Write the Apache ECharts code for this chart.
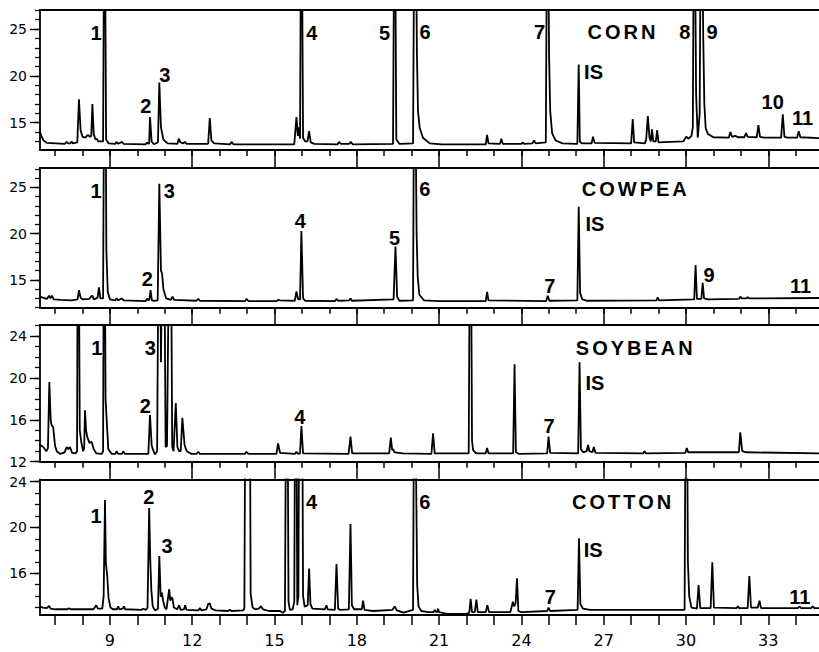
<!DOCTYPE html>
<html><head><meta charset="utf-8">
<script src="https://cdn.jsdelivr.net/npm/echarts@6/dist/echarts.min.js"></script>
<style>html,body{margin:0;padding:0;background:#fff}#c{width:819px;height:652px}</style>
</head><body><div id="c"></div>
<script>
// ---------- data ----------
const panelNames = ['CORN', 'COWPEA', 'SOYBEAN', 'COTTON'];
const xMin = 6.45, xMax = 34.85;
const xTicks = [7,8,9,10,11,12,13,14,15,16,17,18,19,20,21,22,23,24,25,26,27,28,29,30,31,32,33,34];
const xMajorTicks = [9,12,15,18,21,24,27,30,33];
const xTickLabels = [9,12,15,18,21,24,27,30,33];
const yMin = [12.09, 12.0, 12.0, 12.35];
const yMax = [27.03, 27.1, 25.05, 24.2];
const cornYTicks = [13,14,15,16,17,18,19,20,21,22,23,24,25,26,27];
const cowpeaYTicks = [12,13,14,15,16,17,18,19,20,21,22,23,24,25,26,27];
const soybeanYTicks = [12,13,14,15,16,17,18,19,20,21,22,23,24,25];
const cottonYTicks = [13,14,15,16,17,18,19,20,21,22,23,24];
const cornYLabels = [15,20,25];
const cowpeaYLabels = [15,20,25];
const soybeanYLabels = [12,16,20,24];
const cottonYLabels = [16,20,24];

// chromatogram traces: [retention time, detector response]
const cornTrace = [[6.45,14.0],[6.50,13.6],[6.58,13.1],[6.70,12.85],[7.35,12.75],[7.42,12.95],[7.47,12.8],[7.56,12.8],[7.60,13.0],[7.65,12.8],[7.81,12.9],[7.87,17.5],[7.93,14.2],[8.00,13.5],[8.10,13.4],[8.20,13.7],[8.27,13.5],[8.32,13.6],[8.36,17.0],[8.41,13.8],[8.47,13.2],[8.52,13.3],[8.57,13.0],[8.65,13.0],[8.75,13.0],[8.80,45],[8.86,13.2],[8.95,12.8],[9.20,12.75],[9.24,12.95],[9.30,12.75],[9.43,12.95],[9.50,12.75],[10.30,12.7],[10.35,12.9],[10.40,12.75],[10.43,12.8],[10.46,15.6],[10.52,13.0],[10.60,12.7],[10.75,12.9],[10.80,19.3],[10.86,14.5],[10.95,13.2],[11.10,12.8],[11.46,12.75],[11.51,13.3],[11.57,12.9],[11.68,12.8],[11.73,12.95],[11.80,12.75],[12.58,12.75],[12.64,15.5],[12.70,13.1],[12.80,12.8],[13.38,12.7],[13.43,12.95],[13.50,12.7],[15.72,12.7],[15.80,15.6],[15.85,13.6],[15.89,14.5],[15.93,13.3],[15.98,45],[16.04,13.4],[16.12,13.0],[16.20,13.0],[16.26,14.1],[16.32,12.9],[16.45,12.75],[17.30,12.7],[17.35,12.95],[17.42,12.75],[17.72,12.75],[17.78,12.95],[17.85,12.7],[19.32,12.75],[19.38,45],[19.44,13.2],[19.55,12.75],[20.05,12.8],[20.11,45],[20.17,30],[20.19,22.7],[20.23,16.3],[20.29,14.5],[20.41,13.4],[20.66,12.8],[21.10,12.7],[22.70,12.7],[22.75,13.7],[22.80,12.8],[23.22,12.75],[23.27,13.3],[23.32,12.75],[24.00,12.75],[24.05,12.9],[24.10,12.75],[24.40,12.8],[24.46,13.1],[24.52,12.8],[24.89,12.9],[24.95,45],[25.01,22],[25.05,16.3],[25.12,13.9],[25.25,13.1],[25.50,12.8],[26.04,12.75],[26.09,21.2],[26.13,13.0],[26.20,12.8],[26.56,12.8],[26.61,13.5],[26.67,12.85],[28.00,12.8],[28.06,15.4],[28.11,12.9],[28.50,12.8],[28.55,13.2],[28.61,15.7],[28.67,13.4],[28.72,13.0],[28.76,14.3],[28.81,13.0],[28.90,13.0],[28.95,14.2],[29.00,12.9],[29.90,13.0],[30.01,13.5],[30.10,13.3],[30.20,13.6],[30.25,14.5],[30.30,45],[30.37,18],[30.43,13.4],[30.50,16],[30.55,45],[30.63,24],[30.67,17],[30.72,14.4],[30.80,13.8],[31.00,13.45],[31.56,13.4],[31.62,14.0],[31.68,13.5],[31.80,13.6],[31.90,13.45],[32.13,13.45],[32.19,13.9],[32.25,13.5],[32.58,13.45],[32.64,14.75],[32.70,13.5],[32.85,13.4],[33.47,13.4],[33.53,15.9],[33.59,13.5],[33.70,13.4],[34.05,13.4],[34.11,14.1],[34.17,13.45],[34.85,13.35]];

const cowpeaTrace = [[6.45,13.2],[6.55,13.1],[6.70,12.95],[6.78,13.3],[6.83,13.0],[6.88,13.3],[6.95,12.9],[7.20,12.85],[7.60,12.8],[7.82,12.9],[7.87,13.9],[7.93,13.1],[8.00,12.9],[8.25,12.95],[8.31,13.2],[8.36,13.3],[8.41,12.9],[8.50,13.0],[8.55,13.1],[8.60,14.2],[8.65,13.0],[8.75,13.0],[8.80,45],[8.85,30],[8.87,18.2],[8.92,13.7],[9.00,12.9],[9.20,12.8],[9.24,13.0],[9.30,12.8],[9.43,13.0],[9.50,12.8],[10.30,12.7],[10.36,13.0],[10.40,12.8],[10.44,12.9],[10.48,13.9],[10.53,12.8],[10.62,12.75],[10.74,12.8],[10.80,25.4],[10.86,16.0],[10.90,15.7],[10.95,14.0],[11.05,13.0],[11.22,12.85],[11.28,13.2],[11.34,12.85],[12.15,12.75],[12.22,12.95],[12.28,12.75],[13.92,12.7],[13.98,12.95],[14.05,12.7],[15.08,12.7],[15.13,12.85],[15.20,12.8],[15.74,12.75],[15.80,13.75],[15.86,12.9],[15.93,12.9],[15.98,20.3],[16.04,13.0],[16.12,12.75],[17.20,12.7],[17.26,12.95],[17.32,12.75],[17.72,12.8],[17.77,13.0],[17.82,12.75],[19.34,12.9],[19.41,18.6],[19.47,13.2],[19.55,12.75],[20.05,12.8],[20.10,45],[20.15,30],[20.18,20],[20.22,15.35],[20.28,13.4],[20.45,12.8],[21.00,12.7],[22.70,12.7],[22.75,13.7],[22.80,12.8],[24.90,12.7],[24.96,13.3],[25.02,12.75],[26.04,12.8],[26.09,22.9],[26.14,13.6],[26.22,12.9],[26.40,12.75],[28.92,12.8],[28.97,13.1],[29.02,12.8],[30.30,12.9],[30.35,16.6],[30.40,12.95],[30.56,12.95],[30.61,14.7],[30.66,13.0],[30.80,12.9],[31.93,12.95],[31.98,13.2],[32.03,13.0],[32.20,13.0],[32.25,13.15],[32.30,13.0],[34.85,13.05]];

const soybeanTrace = [[6.45,13.6],[6.57,13.4],[6.68,13.0],[6.74,13.3],[6.79,19.6],[6.84,16.0],[6.87,15.5],[6.93,15.3],[7.00,13.5],[7.06,13.0],[7.18,12.75],[7.35,12.9],[7.42,13.4],[7.48,13.2],[7.54,13.4],[7.62,12.85],[7.75,12.8],[7.80,13.0],[7.84,45],[7.90,15],[7.96,13.8],[8.02,13.0],[8.06,13.3],[8.09,16.9],[8.13,15.0],[8.17,14.4],[8.25,13.8],[8.33,13.9],[8.41,13.2],[8.50,12.8],[8.70,12.75],[8.75,13.0],[8.79,45],[8.84,18],[8.87,16.5],[8.94,13.2],[9.06,12.75],[9.20,12.75],[9.24,13.0],[9.30,12.75],[9.44,12.75],[9.48,13.0],[9.54,12.75],[10.40,12.75],[10.46,16.45],[10.52,13.6],[10.56,13.2],[10.64,12.7],[10.72,13.0],[10.80,45],[10.86,21.5],[10.95,45],[11.03,13.4],[11.08,13.5],[11.20,45],[11.27,13.4],[11.32,13.0],[11.40,17.6],[11.46,13.4],[11.52,13.0],[11.58,13.0],[11.64,16.2],[11.72,13.6],[11.80,13.0],[11.97,12.75],[12.16,12.75],[12.22,12.95],[12.28,12.75],[13.92,12.75],[13.98,12.95],[14.05,12.75],[15.07,12.75],[15.13,13.75],[15.20,12.85],[15.75,12.75],[15.80,12.95],[15.85,12.75],[15.93,12.8],[15.98,15.4],[16.04,12.8],[17.70,12.75],[17.77,14.4],[17.83,12.8],[19.18,12.8],[19.24,14.3],[19.29,13.1],[19.32,13.2],[19.38,12.9],[19.68,12.8],[20.72,12.75],[20.78,14.7],[20.84,12.8],[22.08,12.8],[22.14,45],[22.20,14],[22.24,13.1],[22.35,12.8],[22.70,12.8],[22.75,13.3],[22.80,12.8],[23.70,12.8],[23.75,21.3],[23.80,12.9],[23.90,12.75],[24.94,12.8],[24.99,14.4],[25.05,12.85],[26.07,12.8],[26.12,21.5],[26.17,13.2],[26.25,12.9],[26.38,13.0],[26.43,13.6],[26.48,13.0],[26.59,12.9],[26.64,13.4],[26.70,12.85],[28.44,12.8],[28.49,13.0],[28.54,12.8],[29.98,12.85],[30.03,13.3],[30.08,12.9],[31.93,12.9],[31.98,14.8],[32.05,13.0],[32.20,12.9],[34.85,12.8]];

const cottonTrace = [[6.45,13.1],[6.55,13.0],[6.70,12.95],[6.78,13.15],[6.84,12.9],[7.00,12.85],[7.45,12.85],[7.50,12.95],[7.56,12.85],[8.40,12.85],[8.50,13.2],[8.56,12.9],[8.72,12.9],[8.77,14],[8.82,22.4],[8.85,16.9],[8.90,15.8],[8.95,13.8],[9.02,13.0],[9.10,12.85],[9.26,12.85],[9.30,13.1],[9.35,12.85],[9.47,12.9],[9.51,13.1],[9.56,12.85],[10.15,12.8],[10.21,12.9],[10.30,12.8],[10.37,13.0],[10.43,21.7],[10.47,17.15],[10.51,14.5],[10.56,13.1],[10.64,12.75],[10.75,12.9],[10.80,17.5],[10.85,13.95],[10.89,14.3],[10.94,13.6],[11.00,13.0],[11.06,12.85],[11.16,14.6],[11.20,13.6],[11.24,13.9],[11.28,13.8],[11.33,13.0],[11.45,12.85],[11.52,13.2],[11.58,12.8],[11.70,12.85],[11.74,13.2],[11.79,12.8],[12.22,12.75],[12.28,12.95],[12.34,12.75],[12.52,12.85],[12.58,13.3],[12.64,13.37],[12.70,12.9],[12.85,12.75],[13.30,12.7],[13.37,12.8],[13.43,12.7],[13.85,12.75],[13.90,12.9],[13.96,45],[14.08,45],[14.13,14.2],[14.20,13.0],[14.30,12.85],[14.43,12.9],[14.50,13.1],[14.58,12.85],[14.80,12.7],[15.20,12.7],[15.30,12.55],[15.38,12.7],[15.45,45],[15.51,13.5],[15.56,12.8],[15.66,12.85],[15.72,13.5],[15.77,45],[15.83,13.2],[15.87,14],[15.92,45],[15.99,45],[16.04,14],[16.10,13.07],[16.21,13.2],[16.26,16.4],[16.31,13.3],[16.38,12.9],[16.84,12.85],[16.89,13.2],[16.94,12.85],[17.20,12.8],[17.26,16.8],[17.32,12.9],[17.40,12.8],[17.71,12.85],[17.77,20.3],[17.82,13.2],[17.90,12.85],[18.18,12.85],[18.23,13.6],[18.28,12.8],[18.60,12.7],[19.30,12.8],[19.38,13.1],[19.46,12.75],[19.70,12.55],[20.05,12.8],[20.11,45],[20.16,25],[20.20,15],[20.25,13.1],[20.35,12.7],[20.60,12.6],[20.80,12.6],[20.84,12.8],[20.88,12.65],[20.93,12.6],[20.96,12.9],[21.00,12.6],[21.30,12.45],[22.00,12.45],[22.10,12.55],[22.15,13.75],[22.20,12.6],[22.30,12.6],[22.36,13.7],[22.41,12.6],[22.70,12.6],[22.76,13.2],[22.82,12.6],[23.60,12.6],[23.69,13.5],[23.74,13.1],[23.79,13.4],[23.84,15.55],[23.89,12.7],[24.00,12.6],[24.94,12.7],[24.99,13.0],[25.05,12.7],[26.05,12.8],[26.10,19.05],[26.15,13.3],[26.25,12.9],[26.50,12.8],[29.95,12.8],[30.01,45],[30.07,17],[30.12,13.95],[30.20,13.0],[30.40,12.9],[30.46,14.97],[30.52,12.95],[30.90,12.95],[30.96,16.95],[31.02,13.0],[31.84,12.95],[31.89,13.1],[31.94,12.95],[32.25,12.95],[32.31,15.75],[32.37,13.0],[32.62,13.0],[32.68,13.6],[32.74,12.95],[34.08,12.95],[34.14,13.1],[34.20,12.95],[34.56,12.95],[34.62,13.1],[34.68,12.95],[34.85,12.95]];

// peak annotations: [text, time, response]
const cornLabels = [['1',8.49,24.61],['2',10.31,16.79],['3',11.0,20.13],['4',16.36,24.61],['5',19.01,24.61],['6',20.49,24.72],['7',24.66,24.72],['CORN',27.70,24.72],['8',29.96,24.72],['9',30.95,24.72],['IS',26.63,20.39],['10',33.16,17.24],['11',34.25,15.47]];
const cowpeaLabels = [['1',8.49,24.57],['2',10.36,15.08],['3',11.16,24.57],['4',15.94,21.32],['5',19.38,19.57],['6',20.48,24.83],['COWPEA',28.17,24.83],['IS',26.68,21.05],['7',25.04,14.35],['9',30.84,15.54],['11',34.18,14.35]];
const soybeanLabels = [['1',8.52,22.90],['2',10.29,17.28],['3',10.47,22.83],['4',15.92,16.29],['SOYBEAN',28.17,22.88],['IS',26.68,19.47],['7',25.01,15.37]];
const cottonLabels = [['1',8.49,21.00],['2',10.42,22.66],['3',11.08,18.38],['4',16.35,22.25],['6',20.48,22.22],['COTTON',27.71,22.22],['IS',26.62,18.05],['7',25.05,13.92],['11',34.15,13.92]];

// ---------- chart ----------
const traces = [cornTrace, cowpeaTrace, soybeanTrace, cottonTrace];
const peakLabels = [cornLabels, cowpeaLabels, soybeanLabels, cottonLabels];
const yTicks = [cornYTicks, cowpeaYTicks, soybeanYTicks, cottonYTicks];
const yLabels = [cornYLabels, cowpeaYLabels, soybeanYLabels, cottonYLabels];
const gridBoxes = [{top:10,height:140},{top:168,height:139.7},{top:325,height:136.7},{top:479.3,height:135.7}];

const black = '#000';
const lineW = 1.8;
const option = {animation:false, backgroundColor:'#fff', grid:[], xAxis:[], yAxis:[], series:[]};
gridBoxes.forEach((g, i) => {
  const last = i === 3;
  option.grid.push({left:40, right:0, top:g.top, height:g.height});
  const xBase = {type:'value', gridIndex:i, min:xMin, max:xMax, splitLine:{show:false}};
  option.xAxis.push(Object.assign({}, xBase, {
    position:'bottom',
    axisLine:{show:true, onZero:false, lineStyle:{color:black, width:lineW}},
    axisTick:{show:true, inside:false, length:last ? 10 : 6, customValues:xTicks, lineStyle:{color:black, width:1.5}},
    axisLabel:{show:last, customValues:xTickLabels, color:black, fontSize:16, fontFamily:'DejaVu Sans', margin:17}
  }));
  option.xAxis.push(Object.assign({}, xBase, {
    position:'bottom',
    axisLine:{show:false, onZero:false},
    axisTick:{show:!last, inside:false, length:17, customValues:xMajorTicks, lineStyle:{color:black, width:1.5}},
    axisLabel:{show:false}
  }));
  option.xAxis.push(Object.assign({}, xBase, {
    position:'top',
    axisLine:{show:true, onZero:false, lineStyle:{color:black, width:lineW}},
    axisTick:{show:false}, axisLabel:{show:false}
  }));
  const yBase = {type:'value', gridIndex:i, position:'left', min:yMin[i], max:yMax[i], splitLine:{show:false}};
  option.yAxis.push(Object.assign({}, yBase, {
    axisLine:{show:true, onZero:false, lineStyle:{color:black, width:lineW}},
    axisTick:{show:true, inside:false, length:5, customValues:yTicks[i], lineStyle:{color:black, width:1.3}},
    axisLabel:{show:true, customValues:yLabels[i], color:black, fontSize:14, fontFamily:'DejaVu Sans', margin:13}
  }));
  option.yAxis.push(Object.assign({}, yBase, {
    axisLine:{show:false, onZero:false},
    axisTick:{show:true, inside:false, length:10, customValues:yLabels[i], lineStyle:{color:black, width:1.4}},
    axisLabel:{show:false}
  }));
  option.series.push({
    type:'line', xAxisIndex:i*3, yAxisIndex:i*2, data:traces[i], showSymbol:false, symbol:'none',
    clip:true, lineStyle:{color:black, width:1.8}, silent:true
  });
  option.series.push({
    type:'scatter', xAxisIndex:i*3, yAxisIndex:i*2, symbolSize:1, silent:true,
    itemStyle:{color:'rgba(0,0,0,0)'},
    data:peakLabels[i].map(d => ({name:d[0], value:[d[1], d[2]]})),
    label:{show:true, position:'inside', formatter:'{b}', color:black, opacity:1, textBorderWidth:0,
           fontSize:20, fontWeight:'bold',
           fontFamily:'"Liberation Sans", Arial, sans-serif', align:'center', verticalAlign:'middle'}
  });
});

const chart = echarts.init(document.getElementById('c'), null, {renderer:'svg'});
chart.setOption(option);
document.querySelectorAll('#c text').forEach(t => {
  if (panelNames.indexOf(t.textContent) >= 0) t.style.letterSpacing = '3px';
  t.style.fill = '#000';
});
</script>
</body></html>
